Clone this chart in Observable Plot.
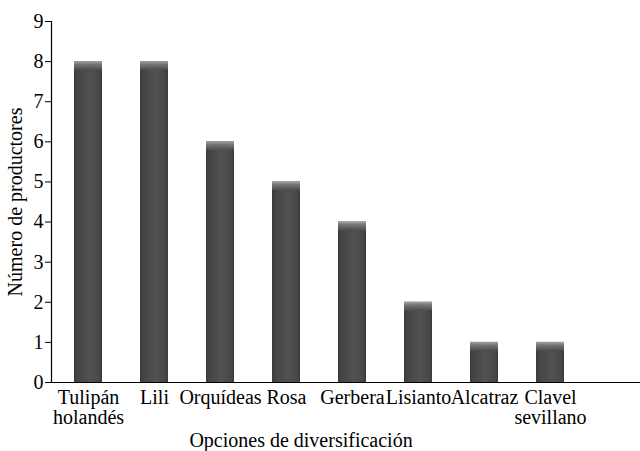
<!DOCTYPE html>
<html>
<head>
<meta charset="utf-8">
<script src="https://cdn.jsdelivr.net/npm/d3@7"></script>
<script src="https://cdn.jsdelivr.net/npm/@observablehq/plot@0.6"></script>
<style>
  html, body { margin: 0; padding: 0; background: #fff; }
</style>
</head>
<body>
<svg width="0" height="0" style="position:absolute">
  <defs>
    <linearGradient id="barGrad" x1="0" x2="1" y1="0" y2="0">
      <stop offset="0%" stop-color="#3b3b3b"/>
      <stop offset="12%" stop-color="#444"/>
      <stop offset="55%" stop-color="#525252"/>
      <stop offset="90%" stop-color="#474747"/>
      <stop offset="100%" stop-color="#3a3a3a"/>
    </linearGradient>
    <linearGradient id="topGrad" x1="0" x2="0" y1="0" y2="1">
      <stop offset="0%" stop-color="#a5a5a5"/>
      <stop offset="35%" stop-color="#767676"/>
      <stop offset="100%" stop-color="#4c4c4c"/>
    </linearGradient>
  </defs>
</svg>
<div id="chart"></div>
<script>
const categories = ["Tulipán holandés", "Lili", "Orquídeas", "Rosa", "Gerbera", "Lisianto", "Alcatraz", "Clavel sevillano"];
const values = [8, 8, 6, 5, 4, 2, 1, 1];
const yTicks = [0, 1, 2, 3, 4, 5, 6, 7, 8, 9];
const xTitle = "Opciones de diversificación";
const yTitle = "Número de productores";

const data = categories.map((c, i) => ({cat: c, n: values[i]}));

const chart = Plot.plot({
  width: 640,
  height: 451,
  marginLeft: 51,
  marginRight: 0,
  marginTop: 21,
  marginBottom: 69,
  style: {fontFamily: "Liberation Serif", fontSize: "20px", color: "#000", background: "#fff"},
  x: {domain: categories, range: [53.8, 584.2], paddingInner: 0.58, paddingOuter: 0.29, label: null},
  y: {domain: [0, 9], label: null},
  marks: [
    Plot.barY(data, {x: "cat", y: "n", fill: "url(#barGrad)"}),
    Plot.barY(data, {x: "cat", y1: d => d.n - 0.22, y2: "n", fill: "url(#topGrad)"}),
    Plot.ruleY([0], {stroke: "#000", strokeWidth: 1.2}),
    Plot.frame({anchor: "left", stroke: "#000", strokeWidth: 1.2}),
    Plot.axisY({ticks: yTicks, tickSize: 6, tickPadding: 2, tickFormat: d => String(d), label: yTitle, labelArrow: "none", labelAnchor: "center", labelOffset: 44, fontSize: 20, fontFamily: "Liberation Serif"}),
    Plot.axisX({tickSize: 0, tickPadding: 7, tickFormat: d => d.replace(" ", "\n"), label: null, fontSize: 20, fontFamily: "Liberation Serif"}),
    Plot.text([xTitle], {frameAnchor: "bottom", dx: -45, dy: 64, fontSize: 20, fontFamily: "Liberation Serif", lineAnchor: "bottom"})
  ]
});
document.getElementById("chart").appendChild(chart);
</script>
</body>
</html>
